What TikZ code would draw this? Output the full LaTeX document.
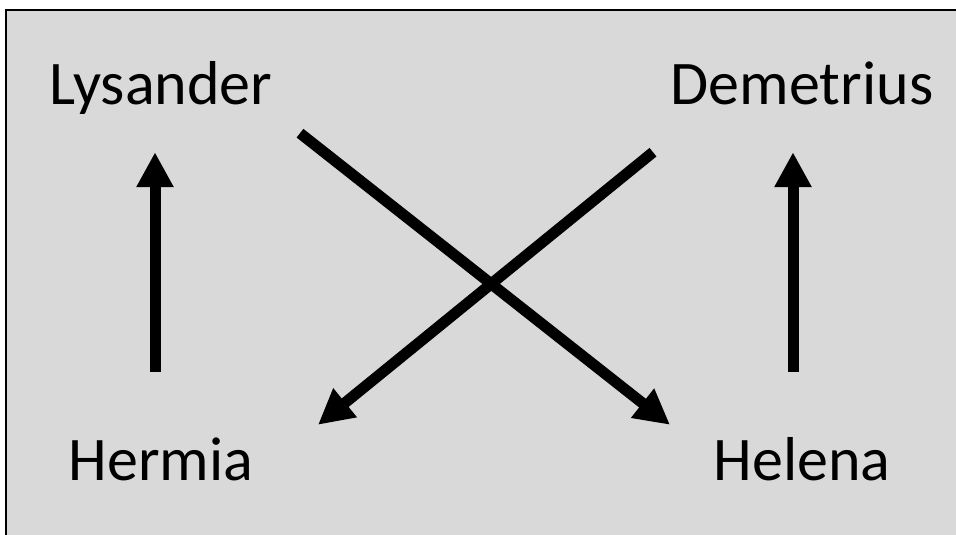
\documentclass[tikz,border=0pt]{standalone}
\usepackage{fontspec}
\setmainfont{Carlito}
\usetikzlibrary{arrows.meta}
\definecolor{panelgray}{HTML}{D9D9D9}

\tikzset{
    lover/.style={anchor=base, inner sep=0pt, text height=45pt, text depth=13pt,
        font=\fontsize{62}{70}\selectfont},
    love/.style={line width=11pt, -{Triangle[width=35pt,length=35pt]}}
}

\begin{document}
\begin{tikzpicture}[x=1pt, y=1pt]
    \useasboundingbox (0, 0) rectangle (956, 535);
    \clip (0, 0) rectangle (956, 535);

    % Panel
    \draw[line width=2pt, fill=panelgray] (6, -20) rectangle (980, 524.5);

    % Names
    \node[lover] (lysander) at (161, 430) {Lysander};
    \node[lover] (demetrius) at (802, 430) {Demetrius};
    \node[lover] (hermia) at (161, 54) {Hermia};
    \node[lover] (helena) at (802, 54) {Helena};

    % Arrows
    \draw[love, shorten <=64pt, shorten >=34pt]
        ([xshift=-6pt]hermia.north) -- ([xshift=-6pt]lysander.south);
    \draw[love, shorten <=64pt, shorten >=34pt]
        ([xshift=-9pt]helena.north) -- ([xshift=-9pt]demetrius.south);
    \draw[love] ([shift={(139pt,-15pt)}]lysander.south) -- ([shift={(-132pt,11pt)}]helena.north);
    \draw[love] ([shift={(-149pt,-34pt)}]demetrius.south) -- ([shift={(157pt,11pt)}]hermia.north);
\end{tikzpicture}
\end{document}
